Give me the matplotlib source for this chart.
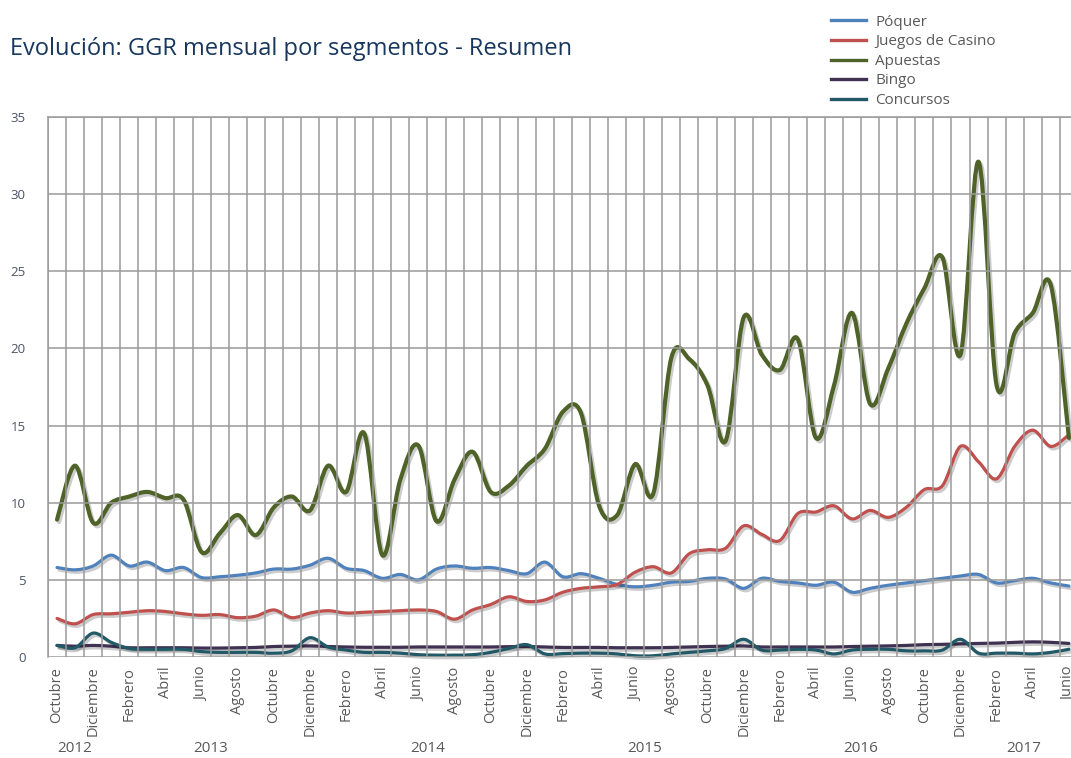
import numpy as np
import matplotlib
matplotlib.use('Agg')
import matplotlib.pyplot as plt
import matplotlib.patheffects as pe
from matplotlib.path import Path
from matplotlib.patches import PathPatch
from matplotlib.lines import Line2D
from matplotlib.transforms import blended_transform_factory

plt.rcParams['font.family'] = ['Open Sans', 'DejaVu Sans']

# GGR mensual (millones de euros), octubre 2012 - junio 2017
poquer = [5.8, 5.65, 5.9, 6.6, 5.9, 6.15, 5.6, 5.8, 5.15, 5.2,
          5.3, 5.45, 5.7, 5.7, 5.95, 6.4, 5.75, 5.6, 5.1, 5.35,
          5.0, 5.7, 5.9, 5.75, 5.8, 5.6, 5.4, 6.15, 5.2, 5.4,
          5.1, 4.7, 4.55, 4.65, 4.85, 4.9, 5.1, 5.05, 4.45, 5.1,
          4.9, 4.8, 4.65, 4.85, 4.2, 4.45, 4.65, 4.8, 4.95, 5.1,
          5.25, 5.35, 4.8, 4.95, 5.1, 4.8, 4.6]
casino = [2.5, 2.15, 2.75, 2.8, 2.9, 3.0, 2.95, 2.8, 2.7, 2.75,
          2.55, 2.65, 3.05, 2.55, 2.85, 3.0, 2.85, 2.9, 2.95, 3.0,
          3.05, 2.95, 2.45, 3.05, 3.4, 3.9, 3.6, 3.7, 4.2, 4.45,
          4.55, 4.7, 5.5, 5.85, 5.45, 6.7, 6.95, 7.05, 8.5, 7.95,
          7.55, 9.3, 9.4, 9.8, 8.95, 9.5, 9.05, 9.7, 10.85, 11.1,
          13.65, 12.65, 11.55, 13.65, 14.7, 13.65, 14.4]
apuestas = [8.9, 12.4, 8.7, 10.0, 10.4, 10.7, 10.3, 10.2, 6.8, 8.0,
            9.2, 7.9, 9.7, 10.4, 9.5, 12.4, 10.7, 14.5, 6.6, 11.5,
            13.7, 8.8, 11.5, 13.3, 10.7, 11.1, 12.4, 13.5, 15.9, 15.8,
            9.8, 9.2, 12.5, 10.6, 19.4, 19.3, 17.6, 14.0, 22.0, 19.6,
            18.6, 20.6, 14.2, 17.6, 22.3, 16.4, 18.7, 21.6, 23.9, 25.9,
            19.6, 32.1, 17.6, 21.0, 22.3, 24.1, 14.2]
bingo = [0.75, 0.7, 0.75, 0.7, 0.6, 0.6, 0.6, 0.6, 0.58, 0.58,
         0.6, 0.62, 0.68, 0.7, 0.72, 0.68, 0.65, 0.63, 0.63, 0.63,
         0.65, 0.65, 0.65, 0.65, 0.65, 0.67, 0.68, 0.65, 0.62, 0.62,
         0.62, 0.6, 0.6, 0.6, 0.62, 0.65, 0.68, 0.7, 0.72, 0.65,
         0.65, 0.65, 0.65, 0.65, 0.68, 0.7, 0.72, 0.75, 0.8, 0.82,
         0.85, 0.88, 0.9, 0.95, 0.98, 0.95, 0.88]
concursos = [0.75, 0.6, 1.55, 0.95, 0.55, 0.5, 0.5, 0.5, 0.35, 0.3,
             0.3, 0.3, 0.25, 0.4, 1.25, 0.65, 0.45, 0.3, 0.3, 0.25,
             0.15, 0.12, 0.12, 0.15, 0.3, 0.55, 0.8, 0.2, 0.22, 0.25,
             0.25, 0.2, 0.08, 0.08, 0.2, 0.3, 0.4, 0.55, 1.15, 0.45,
             0.45, 0.5, 0.45, 0.2, 0.45, 0.5, 0.5, 0.4, 0.4, 0.45,
             1.15, 0.25, 0.25, 0.25, 0.2, 0.3, 0.5]

nombres_mes = ['Enero', 'Febrero', 'Marzo', 'Abril', 'Mayo', 'Junio', 'Julio',
               'Agosto', 'Septiembre', 'Octubre', 'Noviembre', 'Diciembre']
anios = ['2012', '2013', '2014', '2015', '2016', '2017']

series = [('Póquer', poquer, '#4f81bd', 2.3),
          ('Juegos de Casino', casino, '#c0504d', 2.3),
          ('Apuestas', apuestas, '#4f6228', 3.0),
          ('Bingo', bingo, '#3f3151', 2.3),
          ('Concursos', concursos, '#215967', 2.3)]

n = len(apuestas)
idx = np.arange(n)
# mes 0 = octubre 2012
meses = [nombres_mes[(9 + i) % 12] for i in idx]
anio_mes = [2012 + (9 + i) // 12 for i in idx]


def spline_path(x, y):
    # curva suave (Catmull-Rom en segmentos Bezier)
    verts = [(x[0], y[0])]
    codes = [Path.MOVETO]
    m = len(x)
    for k in range(m - 1):
        xa, ya = (x[k - 1], y[k - 1]) if k > 0 else (x[k], y[k])
        xd, yd = (x[k + 2], y[k + 2]) if k + 2 < m else (x[k + 1], y[k + 1])
        verts.append((x[k] + (x[k + 1] - xa) / 6, y[k] + (y[k + 1] - ya) / 6))
        verts.append((x[k + 1] - (xd - x[k]) / 6, y[k + 1] - (yd - y[k]) / 6))
        verts.append((x[k + 1], y[k + 1]))
        codes += [Path.CURVE4] * 3
    return Path(verts, codes)


W, H = 1071, 758
fig = plt.figure(figsize=(W / 100, H / 100), dpi=100)
ax = fig.add_axes([48 / W, 101 / H, 1048 / W, 540 / H])

grid_col = '#9a9a9a'
ax.set_xlim(-0.5, 57.5)
ax.set_ylim(0, 35)
ax.set_yticks(np.arange(0, 36, 5))
ax.set_xticks(idx[::2])
ax.set_xticklabels(meses[::2], rotation=90, fontsize=10.5, color='#595959')
ax.set_xticks(np.arange(-0.5, 58, 1), minor=True)
ax.tick_params(axis='x', which='major', length=0, pad=7)
ax.tick_params(axis='x', which='minor', length=0)
ax.tick_params(axis='y', length=0, pad=16, labelsize=9.5, labelcolor='#4a5568')
ax.grid(axis='x', which='minor', color=grid_col, lw=1.1)
ax.grid(axis='y', which='major', color=grid_col, lw=1.1)
for s in ['right', 'bottom']:
    ax.spines[s].set_visible(False)
for s in ['left', 'top']:
    ax.spines[s].set_color(grid_col)
    ax.spines[s].set_linewidth(1.1)

for nombre, vals, color, lw in series:
    patch = PathPatch(spline_path(idx, vals), fill=False, edgecolor=color,
                      lw=lw, capstyle='round', joinstyle='round', clip_on=False,
                      path_effects=[pe.SimpleLineShadow(offset=(1.5, -1.8), shadow_color='k', alpha=0.2),
                                    pe.Normal()])
    ax.add_patch(patch)

# etiquetas de año debajo de los meses
trans = blended_transform_factory(ax.transData, fig.transFigure)
anio_mes = np.array(anio_mes)
for a in anios:
    pos = idx[anio_mes == int(a)]
    ax.text(pos.mean(), 1 - 748 / H, a, transform=trans, ha='center', va='center',
            fontsize=11, color='#595959')

fig.text(10 / W, 1 - 49 / H, 'Evolución: GGR mensual por segmentos - Resumen',
         fontsize=17, color='#17375e', ha='left', va='center')
fig.text(2 / W, 1 - 372 / H, 'Millones de €', rotation=90, fontsize=9,
         color='#7fe3f0', ha='right', va='center')

handles = [Line2D([], [], color=c, lw=2.4) for _, _, c, _ in series]
fig.legend(handles, [s[0] for s in series], loc='upper left',
           bbox_to_anchor=(817 / W, 1 - 1 / H), frameon=False, fontsize=11,
           handlelength=2.3, handletextpad=0.6, labelspacing=0.3,
           labelcolor='#595959')

fig.savefig('out.png', dpi=100)
